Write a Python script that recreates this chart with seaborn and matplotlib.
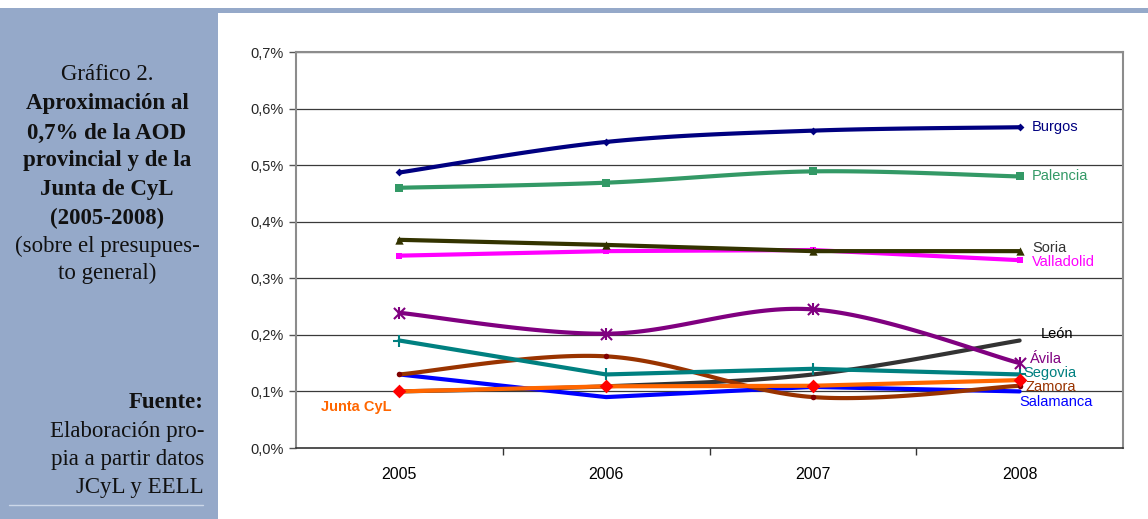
import numpy as np
import pandas as pd
import matplotlib
matplotlib.use("Agg")
import matplotlib.pyplot as plt
from matplotlib.patches import Rectangle
from matplotlib.lines import Line2D
import seaborn as sns

# ---- data (share of general budget, %) ----
years = ["2005", "2006", "2007", "2008"]
burgos = [0.487, 0.541, 0.561, 0.567]
palencia = [0.460, 0.469, 0.489, 0.480]
soria = [0.368, 0.359, 0.348, 0.348]
valladolid = [0.340, 0.348, 0.350, 0.332]
avila = [0.239, 0.202, 0.245, 0.150]
leon = [0.100, 0.109, 0.130, 0.190]
segovia = [0.190, 0.130, 0.140, 0.130]
zamora = [0.130, 0.162, 0.090, 0.110]
salamanca = [0.130, 0.090, 0.108, 0.100]
junta = [0.100, 0.109, 0.110, 0.120]
y_ticks = [0.0, 0.1, 0.2, 0.3, 0.4, 0.5, 0.6, 0.7]
y_tick_labels = ["0,0%", "0,1%", "0,2%", "0,3%", "0,4%", "0,5%", "0,6%", "0,7%"]

# series: name, values, line colour, markers, marker colour, marker size, smoothed
series = [
    ("Burgos", burgos, "#000080", ["D"], "#000080", 4, True),
    ("Palencia", palencia, "#339966", ["s"], "#339966", 6, True),
    ("Soria", soria, "#333300", ["^"], "#333300", 6, False),
    ("Valladolid", valladolid, "#FF00FF", ["s"], "#FF00FF", 5, False),
    ("Ávila", avila, "#800080", ["x", "|"], "#800080", 8, True),
    ("Segovia", segovia, "#008080", ["+"], "#008080", 8, False),
    ("Zamora", zamora, "#993300", ["o"], "#800000", 4, True),
    ("Salamanca", salamanca, "#0000FF", [], "#0000FF", 0, False),
    ("León", leon, "#333333", [], "#333333", 0, True),
    ("Junta CyL", junta, "#FF6600", ["D"], "#FF0000", 7, False),
]

sns.set_theme(style="white")
plt.rcParams["font.family"] = ["Liberation Sans", "DejaVu Sans"]

fig = plt.figure(figsize=(11.48, 5.19), dpi=100)
fig.patch.set_facecolor("white")

# left side panel and top strip
fig.add_artist(Rectangle((0, 0), 218 / 1148, 1 - 8 / 519, transform=fig.transFigure,
                         facecolor="#95A9C9", edgecolor="none", zorder=0))
fig.add_artist(Rectangle((0, 1 - 13 / 519), 1, 5 / 519, transform=fig.transFigure,
                         facecolor="#95A9C9", edgecolor="none", zorder=0))
fig.add_artist(Line2D([9 / 1148, 203 / 1148], [1 - 505 / 519] * 2, transform=fig.transFigure,
                      color="#CCD7E8", lw=1))

ax = fig.add_axes([296 / 1148, 1 - 448 / 519, (1123 - 296) / 1148, (448 - 52) / 519])
ax.set_facecolor("white")


def smooth_curve(xs, ys, n=40):
    """Cardinal (Catmull-Rom) Bezier segments through the given points."""
    pts = np.column_stack([xs, ys]).astype(float)
    ext = np.vstack([pts[0], pts, pts[-1]])
    out = []
    t = np.linspace(0, 1, n)[:, None]
    for i in range(1, len(ext) - 2):
        p0, p1, p2, p3 = ext[i - 1], ext[i], ext[i + 1], ext[i + 2]
        b1 = p1 + (p2 - p0) / 6
        b2 = p2 - (p3 - p1) / 6
        seg = ((1 - t) ** 3) * p1 + 3 * ((1 - t) ** 2) * t * b1 + 3 * (1 - t) * t ** 2 * b2 + t ** 3 * p2
        out.append(seg if i == 1 else seg[1:])
    c = np.vstack(out)
    return c[:, 0], c[:, 1]


xpos = np.arange(len(years))
draw_order = ["León", "Salamanca", "Zamora", "Segovia", "Junta CyL", "Ávila",
              "Valladolid", "Soria", "Palencia", "Burgos"]
lookup = {s[0]: s for s in series}
for z, name in enumerate(draw_order):
    _, vals, lc, mks, mc, ms, smooth = lookup[name]
    if smooth:
        cx, cy = smooth_curve(xpos, vals)
    else:
        cx, cy = xpos.astype(float), np.array(vals, dtype=float)
    sns.lineplot(x=cx, y=cy, ax=ax, color=lc, lw=3, sort=False, estimator=None,
                 zorder=3 + z)
    df = pd.DataFrame({"x": xpos, "y": vals})
    for mk in mks:
        lw_m = 1.5 if mk in ("x", "+", "|") else 0
        sns.scatterplot(data=df, x="x", y="y", ax=ax, marker=mk, s=ms ** 2,
                        color=mc, edgecolor=mc, linewidth=lw_m, zorder=3.5 + z)

# gridlines
for yv in y_ticks[1:]:
    ax.axhline(yv, color="#3A3A3A", lw=0.9, zorder=1)

ax.set_xlim(-0.5, 3.5)
ax.set_ylim(0, 0.7)
ax.set_xticks(xpos)
ax.set_xticklabels(years, fontsize=11.5)
ax.set_xticks([0.5, 1.5, 2.5], minor=True)
ax.set_yticks(y_ticks)
ax.set_yticklabels(y_tick_labels, fontsize=10.5)
ax.tick_params(axis="x", which="major", length=0, pad=14, colors="black")
ax.tick_params(axis="x", which="minor", length=5, width=1, color="#333333", direction="out", bottom=True)
ax.tick_params(axis="y", length=5, width=1, color="#555555", direction="out", left=True, pad=4)
ax.set_xlabel("")
ax.set_ylabel("")
for side in ["left", "right", "top"]:
    ax.spines[side].set_color("#8C8C8C")
    ax.spines[side].set_linewidth(1.5)
ax.spines["bottom"].set_color("#333333")
ax.spines["bottom"].set_linewidth(1.2)

# series labels at the right end
labels = [
    ("Burgos", 3.06, 0.567, "#000080"),
    ("Palencia", 3.06, 0.480, "#339966"),
    ("Soria", 3.06, 0.354, "#333333"),
    ("Valladolid", 3.06, 0.329, "#FF00FF"),
    ("León", 3.10, 0.202, "#000000"),
    ("Ávila", 3.05, 0.158, "#800080"),
    ("Segovia", 3.02, 0.132, "#008080"),
    ("Zamora", 3.03, 0.108, "#993300"),
    ("Salamanca", 3.00, 0.081, "#0000FF"),
]
for txt, xv, yv, col in labels:
    ax.text(xv, yv, txt, color=col, fontsize=10.5, va="center", ha="left", zorder=30)
ax.text(-0.38, 0.073, "Junta CyL", color="#FF6600", fontsize=10.5, fontweight="bold",
        va="center", ha="left", zorder=30)

# side panel text
serif = ["Liberation Serif", "DejaVu Serif"]
cx_panel = 107 / 1148
title_lines = [
    ("Gráfico 2.", "normal", 75),
    ("Aproximación al", "bold", 104),
    ("0,7% de la AOD", "bold", 133),
    ("provincial y de la", "bold", 161),
    ("Junta de CyL", "bold", 190),
    ("(2005-2008)", "bold", 218),
    ("(sobre el presupues-", "normal", 246),
    ("to general)", "normal", 273),
]
for txt, wt, yp in title_lines:
    fig.text(cx_panel, 1 - yp / 519, txt, family=serif, fontsize=16.5, fontweight=wt,
             ha="center", va="center", color="#111111")
src_lines = [
    ("Fuente:", "bold", 402),
    ("Elaboración pro-", "normal", 431),
    ("pia a partir datos", "normal", 460),
    ("JCyL y EELL", "normal", 488),
]
for txt, wt, yp in src_lines:
    fig.text(204 / 1148, 1 - yp / 519, txt, family=serif, fontsize=16.5, fontweight=wt,
             ha="right", va="center", color="#111111")

fig.savefig("out.png", dpi=100, facecolor="white")
